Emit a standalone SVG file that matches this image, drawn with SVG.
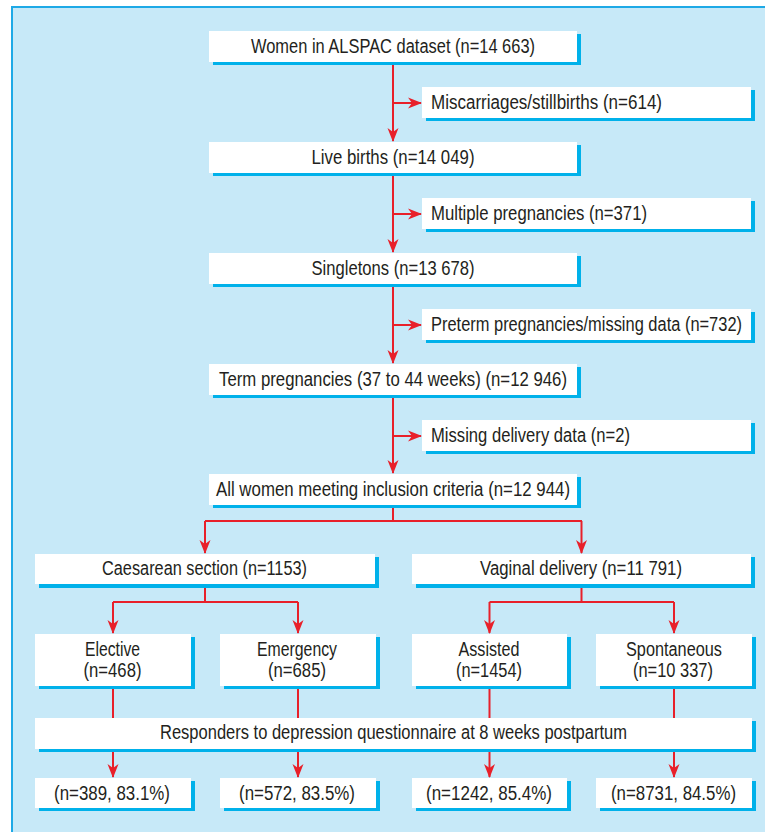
<svg xmlns="http://www.w3.org/2000/svg" width="765" height="832" viewBox="0 0 765 832">
<defs>
<marker id="ah" markerUnits="userSpaceOnUse" markerWidth="14" markerHeight="12" viewBox="0 0 14 12" refX="13" refY="6" orient="auto">
<path d="M0,0.5 L14,6 L0,11.5 L4,6 z" fill="#e8202a"/>
</marker>
</defs>
<style>
.bg{fill:#c7e9f8;}
.frame{fill:none;stroke:#1ea9e6;stroke-width:2;}
.box{fill:#ffffff;}
.sh{fill:#00b1ea;}
.t{font-family:"Liberation Sans Narrow","Liberation Sans",Arial,sans-serif;font-size:19.5px;fill:#231f20;text-anchor:middle;}
.l{text-anchor:start;}
.c{fill:none;stroke:#e8202a;stroke-width:2;}
.a{marker-end:url(#ah);}
</style>
<rect class="bg" x="0" y="0" width="765" height="832"/>
<rect x="0" y="0" width="765" height="6" fill="#ffffff"/>
<rect x="0" y="0" width="11" height="832" fill="#ffffff"/>
<path class="frame" d="M12,832 V7 H765"/>

<g id="connectors">
<path class="c a" d="M393,62 V141"/>
<path class="c a" d="M393,103 H421"/>
<path class="c a" d="M393,173 V252"/>
<path class="c a" d="M393,214 H421"/>
<path class="c a" d="M393,284 V363"/>
<path class="c a" d="M393,325 H421"/>
<path class="c a" d="M393,395 V473"/>
<path class="c a" d="M393,436 H421"/>
<path class="c" d="M393,505 V521 M205,521 H582"/>
<path class="c a" d="M205,521 V553"/>
<path class="c a" d="M581.5,521 V553"/>
<path class="c" d="M205,584 V602 M113,602 H298"/>
<path class="c a" d="M113,602 V633"/>
<path class="c a" d="M298,602 V633"/>
<path class="c" d="M581.5,584 V602 M489.5,602 H674"/>
<path class="c a" d="M489.5,602 V633"/>
<path class="c a" d="M674,602 V633"/>
<path class="c" d="M113,686 V718 M298,686 V718 M489.5,686 V718 M674,686 V718"/>
<path class="c a" d="M113,749 V777"/>
<path class="c a" d="M298,749 V777"/>
<path class="c a" d="M489.5,749 V777"/>
<path class="c a" d="M674,749 V777"/>
</g>

<g id="n1"><rect class="sh" x="213" y="34" width="368" height="31"/><rect class="box" x="209" y="31" width="368" height="31"/><text class="t" x="393" y="52.5" textLength="284" lengthAdjust="spacingAndGlyphs">Women in ALSPAC dataset (n=14 663)</text></g>
<g id="n2"><rect class="sh" x="426" y="90" width="329" height="31"/><rect class="box" x="422" y="87" width="329" height="31"/><text class="t l" x="431" y="108.5" textLength="231" lengthAdjust="spacingAndGlyphs">Miscarriages/stillbirths (n=614)</text></g>
<g id="n3"><rect class="sh" x="213" y="145" width="368" height="31"/><rect class="box" x="209" y="142" width="368" height="31"/><text class="t" x="393" y="163.5" textLength="163" lengthAdjust="spacingAndGlyphs">Live births (n=14 049)</text></g>
<g id="n4"><rect class="sh" x="426" y="201" width="329" height="31"/><rect class="box" x="422" y="198" width="329" height="31"/><text class="t l" x="431" y="219.5" textLength="216" lengthAdjust="spacingAndGlyphs">Multiple pregnancies (n=371)</text></g>
<g id="n5"><rect class="sh" x="213" y="256" width="368" height="31"/><rect class="box" x="209" y="253" width="368" height="31"/><text class="t" x="393" y="274.5" textLength="163" lengthAdjust="spacingAndGlyphs">Singletons (n=13 678)</text></g>
<g id="n6"><rect class="sh" x="426" y="312" width="329" height="31"/><rect class="box" x="422" y="309" width="329" height="31"/><text class="t l" x="431" y="330.5" textLength="311" lengthAdjust="spacingAndGlyphs">Preterm pregnancies/missing data (n=732)</text></g>
<g id="n7"><rect class="sh" x="213" y="367" width="368" height="31"/><rect class="box" x="209" y="364" width="368" height="31"/><text class="t" x="393" y="385.5" textLength="348" lengthAdjust="spacingAndGlyphs">Term pregnancies (37 to 44 weeks) (n=12 946)</text></g>
<g id="n8"><rect class="sh" x="426" y="423" width="329" height="31"/><rect class="box" x="422" y="420" width="329" height="31"/><text class="t l" x="431" y="441.5" textLength="199" lengthAdjust="spacingAndGlyphs">Missing delivery data (n=2)</text></g>
<g id="n9"><rect class="sh" x="213" y="477" width="368" height="31"/><rect class="box" x="209" y="474" width="368" height="31"/><text class="t" x="393" y="495.5" textLength="354" lengthAdjust="spacingAndGlyphs">All women meeting inclusion criteria (n=12 944)</text></g>
<g id="n10"><rect class="sh" x="39" y="557" width="340" height="31"/><rect class="box" x="35" y="554" width="340" height="30"/><text class="t" x="204.5" y="575" textLength="205" lengthAdjust="spacingAndGlyphs">Caesarean section (n=1153)</text></g>
<g id="n11"><rect class="sh" x="416" y="557" width="339" height="31"/><rect class="box" x="412" y="554" width="339" height="30"/><text class="t" x="581" y="575" textLength="202" lengthAdjust="spacingAndGlyphs">Vaginal delivery (n=11 791)</text></g>
<g id="n12"><rect class="sh" x="39" y="637" width="156" height="52"/><rect class="box" x="35" y="634" width="156" height="52"/><text class="t" x="112.5" y="656" textLength="55" lengthAdjust="spacingAndGlyphs">Elective</text><text class="t" x="112.5" y="677" textLength="58" lengthAdjust="spacingAndGlyphs">(n=468)</text></g>
<g id="n13"><rect class="sh" x="224" y="637" width="156" height="52"/><rect class="box" x="220" y="634" width="156" height="52"/><text class="t" x="297" y="656" textLength="80" lengthAdjust="spacingAndGlyphs">Emergency</text><text class="t" x="297" y="677" textLength="58" lengthAdjust="spacingAndGlyphs">(n=685)</text></g>
<g id="n14"><rect class="sh" x="416" y="637" width="155" height="52"/><rect class="box" x="412" y="634" width="155" height="52"/><text class="t" x="489" y="656" textLength="61" lengthAdjust="spacingAndGlyphs">Assisted</text><text class="t" x="489" y="677" textLength="66" lengthAdjust="spacingAndGlyphs">(n=1454)</text></g>
<g id="n15"><rect class="sh" x="600" y="637" width="156" height="52"/><rect class="box" x="596" y="634" width="156" height="52"/><text class="t" x="674" y="656" textLength="96" lengthAdjust="spacingAndGlyphs">Spontaneous</text><text class="t" x="673" y="677" textLength="80" lengthAdjust="spacingAndGlyphs">(n=10 337)</text></g>
<g id="n16"><rect class="sh" x="39" y="721" width="717" height="31"/><rect class="box" x="35" y="718" width="717" height="31"/><text class="t" x="393.5" y="738.5" textLength="467" lengthAdjust="spacingAndGlyphs">Responders to depression questionnaire at 8 weeks postpartum</text></g>
<g id="n17"><rect class="sh" x="39" y="781" width="156" height="30"/><rect class="box" x="35" y="778" width="156" height="30"/><text class="t" x="112" y="799.5" textLength="116" lengthAdjust="spacingAndGlyphs">(n=389, 83.1%)</text></g>
<g id="n18"><rect class="sh" x="224" y="781" width="156" height="30"/><rect class="box" x="220" y="778" width="156" height="30"/><text class="t" x="297" y="799.5" textLength="116" lengthAdjust="spacingAndGlyphs">(n=572, 83.5%)</text></g>
<g id="n19"><rect class="sh" x="416" y="781" width="155" height="30"/><rect class="box" x="412" y="778" width="155" height="30"/><text class="t" x="489" y="799.5" textLength="126" lengthAdjust="spacingAndGlyphs">(n=1242, 85.4%)</text></g>
<g id="n20"><rect class="sh" x="600" y="781" width="156" height="30"/><rect class="box" x="596" y="778" width="156" height="30"/><text class="t" x="673.5" y="799.5" textLength="125" lengthAdjust="spacingAndGlyphs">(n=8731, 84.5%)</text></g>
</svg>
